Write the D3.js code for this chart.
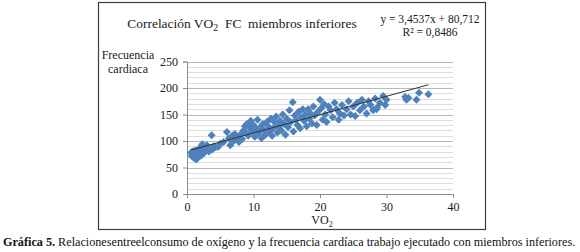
<!DOCTYPE html>
<html>
<head>
<meta charset="utf-8">
<script src="https://cdn.jsdelivr.net/npm/d3@7"></script>
<style>
  body { margin: 0; background: #fff; }
  svg { display: block; font-family: "Liberation Serif", "Times New Roman", serif; }
</style>
</head>
<body>
<div id="chart"></div>
<script>
// values: VO2 and heart rate
const vo2 = [0.6, 0.7, 0.8, 0.9, 1.0, 1.1, 1.2, 1.3, 1.4, 1.5, 1.6, 1.7, 1.8, 1.9, 2.0, 2.1, 2.2, 2.3, 2.4, 2.5, 2.6, 2.8, 3.0, 3.1, 3.3,
  3.7, 3.8, 4.0, 4.3, 4.7, 5.0, 5.5,
  6.0, 6.3, 6.5, 6.8, 7.0, 7.2, 7.5, 7.8, 8.0, 8.3, 8.5, 8.7, 8.9, 9.0, 9.2,
  9.4, 9.6, 9.8, 10.0, 10.2, 10.4, 10.6, 10.8, 11.0, 11.2, 11.4, 11.6, 11.8, 12.0, 12.2, 12.4, 12.6, 12.8, 13.0,
  13.2, 13.4, 13.6, 13.8, 14.0, 14.2, 14.4, 14.6, 14.8, 15.0, 15.2, 15.4, 15.6, 15.9, 16.0, 16.2, 16.4, 16.6, 16.8, 17.0, 17.2, 17.4, 17.6, 17.8, 18.0,
  18.2, 18.4, 18.6, 18.8, 19.0, 19.2, 19.5, 19.7, 20.0, 20.2, 20.4, 20.6, 20.8, 21.0, 21.3, 21.6, 21.9, 22.2, 22.5, 22.8, 23.0, 23.3, 23.6, 24.0,
  24.3, 24.6, 25.0, 25.3, 25.6, 26.0, 26.3, 26.6, 27.0, 27.3, 27.6, 28.0, 28.3, 28.5, 28.6, 29.0, 29.5, 29.8, 30.0,
  32.8, 33.0, 33.3, 34.5, 34.9, 36.3];
const fc = [78, 72, 80, 70, 75, 68, 82, 73, 65, 77, 70, 84, 74, 79, 88, 72, 80, 94, 85, 90, 78, 83, 92, 86, 80,
  111, 84, 90, 88, 89, 95, 98,
  117, 105, 92, 110, 100, 113, 106, 98, 112, 104, 120, 128, 115, 132, 110,
  125, 138, 118, 130, 108, 122, 140, 115, 126, 105, 132, 120, 112, 136, 128, 118, 142, 110, 124,
  135, 146, 116, 128, 138, 120, 150, 132, 112, 142, 126, 158, 136, 173, 118, 148, 140, 130, 155, 124, 145, 160, 138, 150, 128,
  160, 142, 152, 133, 165, 148, 130, 155, 178, 162, 140, 170, 150, 136, 165, 158, 145, 172, 160, 140, 152, 168, 148, 160,
  175, 150, 165, 147, 172, 158, 178, 165, 152, 175, 168, 158, 180, 160, 163, 172, 185, 168, 178,
  183, 178, 181, 178, 191, 188];

const slope = 3.4537;
const intercept = 80.712;

const xTicks = [0, 10, 20, 30, 40];
const yTicks = [0, 50, 100, 150, 200, 250];

const W = 580, H = 252;
const svg = d3.select("#chart").append("svg").attr("width", W).attr("height", H);

// outer chart frame
svg.append("rect")
  .attr("x", 98.5).attr("y", 2.5).attr("width", 387).attr("height", 227)
  .attr("fill", "none").attr("stroke", "#404040").attr("stroke-width", 1.2);

const x = d3.scaleLinear().domain([0, 40]).range([187, 453]);
const y = d3.scaleLinear().domain([0, 250]).range([194, 61.5]);

// minor gridlines every 10
const minor = d3.range(10, 250, 10).filter(v => v % 50 !== 0);
svg.append("g").selectAll("line").data(minor).join("line")
  .attr("x1", x(0)).attr("x2", x(40))
  .attr("y1", d => Math.round(y(d)) + 0.5).attr("y2", d => Math.round(y(d)) + 0.5)
  .attr("stroke", "#dedede").attr("stroke-width", 1);

// major gridlines
svg.append("g").selectAll("line").data(yTicks.slice(1)).join("line")
  .attr("x1", x(0)).attr("x2", x(40))
  .attr("y1", d => Math.round(y(d)) + 0.5).attr("y2", d => Math.round(y(d)) + 0.5)
  .attr("stroke", "#b8b8b8").attr("stroke-width", 1);

// axes
const yAxis = d3.axisLeft(y).tickValues(yTicks).tickSize(4).tickPadding(5);
const xAxis = d3.axisBottom(x).tickValues(xTicks).tickSize(4).tickPadding(4);

const gy = svg.append("g").attr("transform", `translate(${x(0)},0)`).call(yAxis);
const gx = svg.append("g").attr("transform", `translate(0,${y(0)})`).call(xAxis);
[gx, gy].forEach(g => {
  g.selectAll("path, line").attr("stroke", "#8c8c8c");
  g.selectAll("text").attr("font-family", "Liberation Serif").attr("font-size", 12).attr("fill", "#1a1a1a");
});

// markers
const pts = vo2.map((v, i) => ({vo2: v, fc: fc[i]}));
const diamond = "M0,-4L4,0L0,4L-4,0Z";
svg.append("g").selectAll("path").data(pts).join("path")
  .attr("d", diamond)
  .attr("transform", d => `translate(${x(d.vo2)},${y(d.fc)})`)
  .attr("fill", "#4f81bd");

// linear trendline
const ext = d3.extent(vo2);
svg.append("line")
  .attr("x1", x(ext[0])).attr("y1", y(slope * ext[0] + intercept))
  .attr("x2", x(ext[1])).attr("y2", y(slope * ext[1] + intercept))
  .attr("stroke", "#303030").attr("stroke-width", 1);

// title
const title = svg.append("text").attr("x", 242).attr("y", 28)
  .attr("text-anchor", "middle").attr("font-size", 15).attr("fill", "#1a1a1a")
  .style("white-space", "pre");
title.append("tspan").text("Correlación VO");
title.append("tspan").attr("font-size", 10).attr("dy", 3).text("2");
title.append("tspan").attr("dy", -3).text("  FC  miembros inferiores");
const tw = title.node().getComputedTextLength();
title.attr("font-size", 15 * 229 / tw);

// equation
svg.append("text").attr("x", 430).attr("y", 23).attr("text-anchor", "middle")
  .attr("font-size", 11.5).attr("fill", "#1a1a1a").text("y = 3,4537x + 80,712");
svg.append("text").attr("x", 430).attr("y", 36).attr("text-anchor", "middle")
  .attr("font-size", 11.5).attr("fill", "#1a1a1a").text("R² = 0,8486");

// axis titles
const yl = svg.append("text").attr("text-anchor", "middle").attr("font-size", 12).attr("fill", "#1a1a1a");
yl.append("tspan").attr("x", 128).attr("y", 59).text("Frecuencia");
yl.append("tspan").attr("x", 128).attr("y", 73).text("cardiaca");

const xl = svg.append("text").attr("x", 322).attr("y", 224).attr("text-anchor", "middle")
  .attr("font-size", 12).attr("fill", "#1a1a1a");
xl.append("tspan").text("VO");
xl.append("tspan").attr("font-size", 8).attr("dy", 3).text("2");

// caption under the frame
const cap = svg.append("text").attr("x", 3).attr("y", 246).attr("font-size", 12).attr("fill", "#111");
cap.append("tspan").attr("font-weight", "bold").text("Gráfica 5.");
cap.append("tspan").text(" Relacionesentreelconsumo de oxígeno y la frecuencia cardíaca trabajo ejecutado con miembros inferiores.");
const capW = cap.node().getComputedTextLength();
cap.attr("font-size", 12 * 573 / capW);
</script>
</body>
</html>
